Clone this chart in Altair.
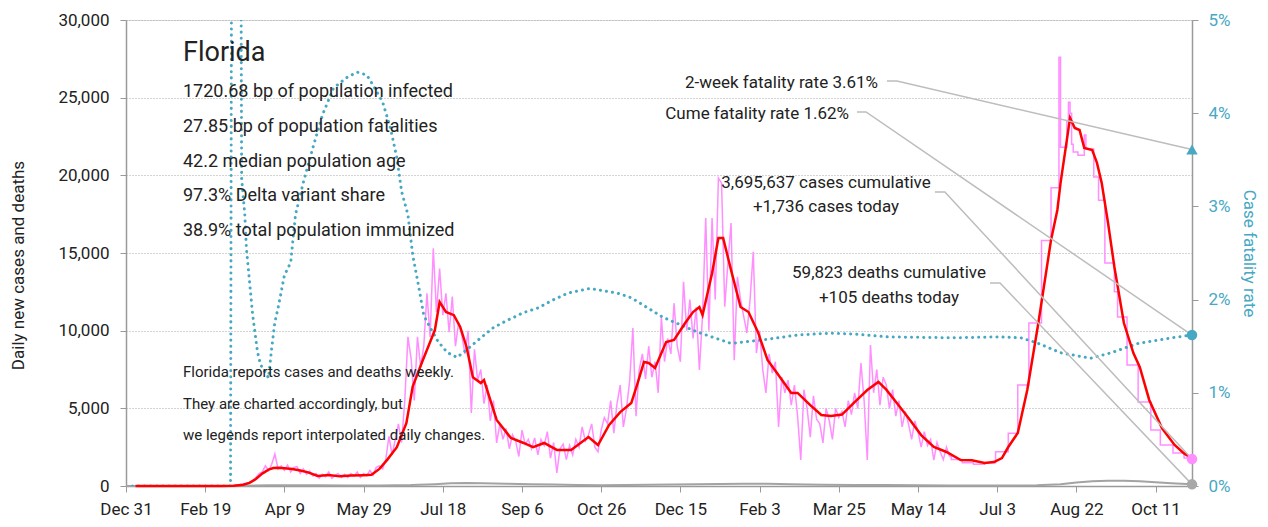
import altair as alt
import pandas as pd

FONT = "Roboto"
TEAL = "#47a8c3"
PINK = "#ff8fff"
RED = "#ff0000"
GRAY = "#a3a3a3"
LEADER = "#bdbdbd"
INK = "#222222"

# ---------------- data (day = days since 2019-12-31) ----------------
tick_days = [0, 50, 100, 150, 200, 250, 300, 350, 400, 450, 500, 550, 600, 650]
tick_labels = ["Dec 31", "Feb 19", "Apr 9", "May 29", "Jul 18", "Sep 6", "Oct 26",
               "Dec 15", "Feb 3", "Mar 25", "May 14", "Jul 3", "Aug 22", "Oct 11"]
last_day = 673

# daily new cases, sampled every 2 days from day 60 to day 520
pink_days = list(range(60, 521, 2))
pink_vals = [
    0, 0, 10, 20, 30, 60, 90, 130, 180, 250,
    350, 550, 800, 900, 1300, 1000, 1400, 2060, 1100, 1300,
    1000, 1350, 900, 1200, 1250, 800, 1100, 750, 950, 650,
    800, 500, 750, 600, 900, 500, 700, 800, 550, 750,
    550, 800, 650, 900, 550, 800, 650, 1000, 700, 1200,
    1300, 1100, 1700, 3200, 2000, 3000, 4000, 2800, 5500, 9600,
    8200, 5500, 9600, 7700, 9000, 12400, 9600, 15300, 11200, 14000,
    11000, 12400, 9900, 12200, 9000, 10500, 9700, 8500, 10000, 4700,
    8800, 6800, 7500, 5300, 6500, 4200, 5500, 2770, 4000, 3000,
    3700, 2400, 3300, 2900, 1900, 3600, 2700, 3000, 2400, 3100,
    2000, 3000, 2600, 3500, 1800, 2800, 840, 2400, 2700, 1700,
    2600, 2000, 3000, 2500, 3800, 2900, 3300, 4000, 2500, 2200,
    3600, 4400, 4000, 5500, 3400, 5300, 6500, 3800, 5000, 6800,
    10170, 4500, 7500, 8500, 6900, 9000, 7000, 8000, 6000, 10900,
    8000, 9500, 8500, 11770, 9000, 8000, 13150, 10000, 12000, 9500,
    11500, 7470, 11000, 17250, 10000, 17250, 12000, 19830, 19500, 11540,
    14350, 16930, 8100, 13470, 12000, 10900, 9850, 12000, 15080, 8560,
    10000, 7500, 5990, 8500, 7270, 8000, 3800, 7000, 6000, 6820,
    5200, 6500, 4500, 1670, 6200, 5000, 3150, 5800, 4300, 4000,
    2770, 5000, 4200, 3000, 5000, 4400, 4800, 3800, 5500, 4600,
    6000, 5000, 7920, 5500, 1670, 9080, 6000, 7500, 5200, 7000,
    6500, 5000, 6200, 4500, 5500, 3800, 4800, 4000, 3000, 4200,
    3500, 2500, 3500, 2600, 3000, 1670, 2800, 2200, 1700, 2500,
    1900,
]

# weekly reported cases (step shaped), from day 520
week_days = [520, 521, 528, 535, 542, 549, 557, 563, 570, 578, 584, 589, 590, 594,
             595, 596, 597, 598, 601, 605, 606, 611, 614, 618, 624, 626, 632, 639,
             647, 653, 661, 668, 673]
week_vals = [1900, 1700, 1500, 1400, 1500, 2200, 3400, 6500, 10500, 15800, 19200, 27600,
             21800, 23500, 24700, 24000, 22000, 21500, 21300, 22600, 21700, 19900, 18400,
             14350, 12500, 10880, 7790, 5400, 3600, 2640, 2120, 1800, 1736]

# 7-day average of new cases
avg_days = [6, 60, 68, 74, 78, 82, 86, 90, 93, 96,
            100, 105, 110, 115, 121, 128, 135, 142, 150, 155,
            160, 165, 171, 177, 181, 187, 192, 195, 198, 202,
            207, 211, 215, 219, 224, 226, 234, 243, 251, 257,
            264, 272, 281, 292, 298, 305, 312, 319, 323, 327,
            330, 334, 341, 346, 353, 358, 362, 364, 370, 374,
            377, 382, 388, 393, 399, 405, 411, 420, 424, 432,
            439, 445, 452, 460, 468, 475, 480, 487, 494, 502,
            510, 518, 527, 534, 542, 548, 553, 557, 563, 569,
            576, 584, 588, 590, 594, 596, 599, 602, 605, 610,
            613, 616, 620, 624, 630, 636, 640, 646, 654, 662,
            668, 673]
avg_vals = [0, 0, 20, 80, 200, 450, 800, 1050, 1160, 1170,
            1150, 1100, 1000, 880, 650, 700, 620, 680, 700, 720,
            1100, 1700, 2500, 4050, 6400, 8000, 9270, 10040, 11850, 11200,
            11000, 10240, 8950, 7000, 6630, 6820, 4250, 3090, 2770, 2500,
            2770, 2320, 2320, 3150, 2640, 3930, 4760, 5340, 6630, 7980,
            7920, 7600, 9270, 9400, 10490, 11200, 11520, 11000, 13700, 15960,
            15960, 13900, 11520, 11200, 9900, 8110, 7270, 5990, 5990, 5210,
            4570, 4500, 4600, 5400, 6180, 6700, 6200, 5300, 4380, 3280,
            2510, 2190, 1670, 1650, 1480, 1540, 1800, 2510, 3410, 6180,
            10490, 15840, 17770, 19500, 22280, 23700, 23050, 22920, 21760, 21630,
            20800, 19500, 16930, 14100, 10490, 8560, 7660, 5540, 3730, 2640,
            2100, 1780]

# daily deaths
death_days = [0, 60, 75, 90, 105, 120, 140, 160, 180, 195, 205, 215, 225, 240, 255, 270,
              285, 300, 315, 330, 345, 360, 375, 390, 405, 420, 440, 460, 480, 500, 520,
              540, 560, 575, 590, 600, 610, 620, 630, 640, 650, 660, 673]
death_vals = [0, 0, 15, 45, 50, 45, 40, 35, 60, 120, 170, 200, 180, 150, 110, 90,
              65, 55, 60, 75, 95, 110, 130, 150, 150, 120, 80, 65, 60, 50, 40,
              35, 35, 50, 120, 220, 300, 340, 330, 300, 240, 180, 105]

# case fatality rate, %
cfr_days = [4, 66, 67, 72, 73, 75, 76, 78, 80, 83, 85, 88, 90, 92, 94, 96, 100, 104, 107,
            112, 118, 124, 131, 140, 146, 152, 156, 162, 167, 171, 174, 178, 181, 185,
            188, 192, 197, 203, 209, 215, 224, 232, 241, 251, 260, 270, 279, 293, 310,
            319, 339, 361, 382, 403, 424, 445, 460, 481, 523, 550, 565, 576, 590, 609,
            622, 639, 660, 673]
cfr_vals = [0, 0, 9, 9, 3.3, 2.91, 2.55, 2.19, 1.83, 1.44, 1.30, 1.22, 1.16, 1.48, 1.76,
            1.91, 2.26, 2.40, 2.91, 3.26, 3.63, 3.98, 4.27, 4.39, 4.44, 4.41, 4.30, 4.12,
            3.84, 3.52, 3.16, 2.91, 2.48, 2.12, 1.83, 1.70, 1.55, 1.43, 1.38, 1.46, 1.59,
            1.70, 1.78, 1.86, 1.91, 2.00, 2.07, 2.12, 2.07, 2.02, 1.81, 1.65, 1.53, 1.57,
            1.62, 1.64, 1.63, 1.60, 1.59, 1.60, 1.59, 1.53, 1.43, 1.37, 1.43, 1.53, 1.59,
            1.62]

cases_today = 1736
deaths_today = 105
cfr_2week = 3.61
cfr_cume = 1.62

info_lines = ["1720.68 bp of population infected", "27.85 bp of population fatalities",
              "42.2 median population age", "97.3% Delta variant share",
              "38.9% total population immunized"]
note_lines = ["Florida reports cases and deaths weekly.", "They are charted accordingly, but",
              "we legends report interpolated daily changes."]

# ---------------- scales / axes ----------------
W, H = 1066, 466
xs = alt.Scale(domain=[0, last_day], nice=False, zero=False)
ys = alt.Scale(domain=[0, 30000], nice=False)
cs = alt.Scale(domain=[0, 5], nice=False)

label_expr = "''"
for d, lab in reversed(list(zip(tick_days, tick_labels))):
    label_expr = f"datum.value == {d} ? '{lab}' : ({label_expr})"

x_axis = alt.Axis(values=tick_days, labelExpr=label_expr, title=None, grid=False,
                  labelFlush=False, labelOverlap=False,
                  domainColor="#9a9a9a", domainWidth=1.5, tickColor="#9a9a9a", tickSize=6,
                  labelPadding=9, labelFontSize=17, labelColor=INK, labelFont=FONT)
y_axis = alt.Axis(values=[0, 5000, 10000, 15000, 20000, 25000, 30000], format=",d",
                  title="Daily new cases and deaths", titleFontSize=17, titleFontWeight="normal",
                  titleColor=INK, titleFont=FONT, titleX=-108, titleY=245, titleAngle=-90,
                  titleAlign="center", titleBaseline="middle",
                  labelFlush=False, labelOverlap=False,
                  grid=True, gridDash=[1, 2], gridColor="#a8a8a8", gridWidth=1,
                  domainColor="#9a9a9a", domainWidth=1.5, tickColor="#9a9a9a", tickSize=6,
                  labelPadding=11, labelFontSize=17, labelColor=INK, labelFont=FONT)
c_axis = alt.Axis(orient="right", values=[0, 1, 2, 3, 4, 5], labelExpr="datum.value + '%'",
                  title="Case fatality rate", titleFontSize=17, titleFontWeight="normal",
                  titleColor=TEAL, titleFont=FONT, titleX=56, titleY=233, titleAngle=90,
                  titleAlign="center", titleBaseline="middle", grid=False,
                  labelFlush=False, labelOverlap=False,
                  domainColor="#9a9a9a", domainWidth=1.5, tickColor="#9a9a9a", tickSize=6,
                  labelPadding=10, labelFontSize=17, labelColor=TEAL, labelFont=FONT)


def X(axis=None):
    return alt.X("day:Q", scale=xs, axis=axis)


def Yc(axis=None):
    return alt.Y("val:Q", scale=ys, axis=axis)


def Yr(axis=None):
    return alt.Y("val:Q", scale=cs, axis=axis)


pink_df = pd.DataFrame({"day": pink_days, "val": pink_vals})
week_df = pd.DataFrame({"day": week_days, "val": week_vals})
avg_df = pd.DataFrame({"day": avg_days, "val": avg_vals})
death_df = pd.DataFrame({"day": death_days, "val": death_vals})
cfr_df = pd.DataFrame({"day": cfr_days, "val": cfr_vals})

deaths_layer = alt.Chart(death_df).mark_line(color=GRAY, strokeWidth=2).encode(
    x=X(x_axis), y=Yc(y_axis))
pink_layer = alt.Chart(pink_df).mark_line(color=PINK, strokeWidth=1.5).encode(
    x=X(x_axis), y=Yc())
week_layer = alt.Chart(week_df).mark_line(color=PINK, strokeWidth=1.5,
                                          interpolate="step-after").encode(x=X(x_axis), y=Yc())
avg_layer = alt.Chart(avg_df).mark_line(color=RED, strokeWidth=2.5).encode(
    x=X(x_axis), y=Yc())
cfr_layer = alt.Chart(cfr_df).mark_line(color=TEAL, strokeWidth=3, strokeCap="round",
                                        strokeDash=[0.1, 6], clip=True).encode(
    x=X(x_axis), y=Yr(c_axis))

# leader lines (points: label end, elbow, marker)
lead_c = pd.DataFrame({
    "g": ["c", "c", "c", "d", "d", "d"], "o": [0, 1, 2, 0, 1, 2],
    "day": [510.7, 517, last_day, 545.5, 551.8, last_day],
    "val": [18930, 18930, cases_today, 13070, 13070, deaths_today]})
lead_r = pd.DataFrame({
    "g": ["a", "a", "a", "b", "b", "b"], "o": [0, 1, 2, 0, 1, 2],
    "day": [480.4, 486.7, last_day, 461.5, 467.2, last_day],
    "val": [4.345, 4.345, cfr_2week, 4.013, 4.013, cfr_cume]})
lead_c_layer = alt.Chart(lead_c).mark_line(color=LEADER, strokeWidth=1.5).encode(
    x=X(x_axis), y=Yc(), detail="g:N", order="o:Q")
lead_r_layer = alt.Chart(lead_r).mark_line(color=LEADER, strokeWidth=1.5).encode(
    x=X(x_axis), y=Yr(), detail="g:N", order="o:Q")

pink_dot = alt.Chart(pd.DataFrame({"day": [last_day], "val": [cases_today]})).mark_point(
    filled=True, size=110, color=PINK, opacity=1).encode(x=X(x_axis), y=Yc())
gray_dot = alt.Chart(pd.DataFrame({"day": [last_day], "val": [deaths_today]})).mark_point(
    filled=True, size=110, color="#a8a8a8", opacity=1).encode(x=X(x_axis), y=Yc())
teal_dot = alt.Chart(pd.DataFrame({"day": [last_day], "val": [cfr_cume]})).mark_point(
    filled=True, size=110, color=TEAL, opacity=1).encode(x=X(x_axis), y=Yr())
teal_tri = alt.Chart(pd.DataFrame({"day": [last_day], "val": [cfr_2week]})).mark_point(
    filled=True, size=130, shape="triangle-up", color=TEAL, opacity=1).encode(x=X(x_axis), y=Yr())


def label(text, px, py, size=18, align="left", color=INK):
    return alt.Chart(pd.DataFrame({"t": [text]})).mark_text(
        align=align, baseline="alphabetic", fontSize=size, font=FONT, color=color
    ).encode(x=alt.value(px), y=alt.value(py), text="t:N")


texts = [label("Florida", 57, 41, size=27)]
for i, line in enumerate(info_lines):
    texts.append(label(line, 57, 77 + 34.8 * i, size=18))
for i, line in enumerate(note_lines):
    texts.append(label(line, 57, 357 + 31.5 * i, size=15))

texts += [
    label(f"2-week fatality rate {cfr_2week:.2f}%", 752, 68, size=17, align="right"),
    label(f"Cume fatality rate {cfr_cume:.2f}%", 723, 99, size=17, align="right"),
    label("3,695,637 cases cumulative", 700, 168, size=17, align="center"),
    label(f"+{cases_today:,} cases today", 700, 192, size=17, align="center"),
    label("59,823 deaths cumulative", 763, 258, size=17, align="center"),
    label(f"+{deaths_today} deaths today", 763, 283, size=17, align="center"),
]

chart = alt.layer(
    deaths_layer, pink_layer, week_layer, cfr_layer, avg_layer,
    lead_c_layer, lead_r_layer, gray_dot, pink_dot, teal_dot, teal_tri, *texts
).resolve_scale(y="independent").properties(
    width=W, height=H,
    autosize=alt.AutoSizeParams(type="none"),
    padding={"left": 118, "top": 12, "right": 68, "bottom": 40},
).configure_view(stroke=None).configure(font=FONT)

chart.save("out.html", embed_options={"renderer": "svg", "actions": False})
